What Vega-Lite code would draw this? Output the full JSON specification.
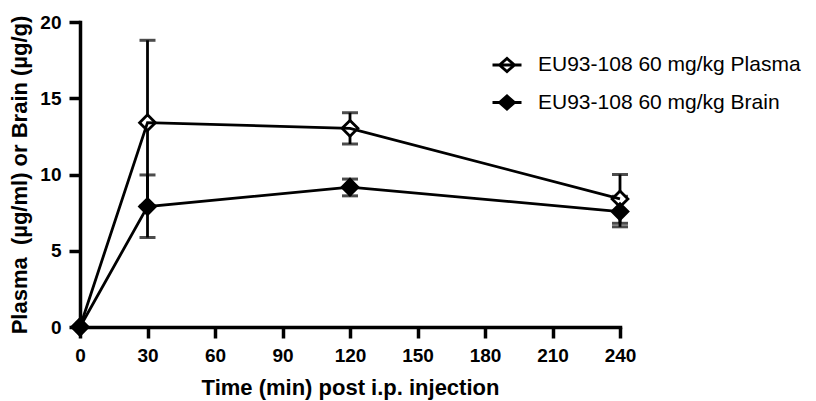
{
  "$schema": "https://vega.github.io/schema/vega-lite/v6.json",
  "autosize": {"type": "none"},
  "padding": {"left": 80, "top": 22, "right": 196, "bottom": 74},
  "width": 540,
  "height": 305,
  "background": "white",
  "config": {
    "view": {"stroke": null},
    "axis": {
      "grid": false,
      "labelFlush": false,
      "labelOverlap": false,
      "domainColor": "black",
      "domainWidth": 3.5,
      "domainCap": "square",
      "tickColor": "black",
      "tickWidth": 3.5,
      "tickSize": 11,
      "labelFont": "Liberation Sans",
      "labelFontWeight": "bold",
      "labelFontSize": 19,
      "labelColor": "black",
      "titleFont": "Liberation Sans",
      "titleFontWeight": "bold",
      "titleFontSize": 22,
      "titleColor": "black"
    }
  },
  "data": {
    "values": [
      {"time": 0, "series": "EU93-108 60 mg/kg Plasma", "mean": 0, "lo": null, "hi": null},
      {"time": 30, "series": "EU93-108 60 mg/kg Plasma", "mean": 13.4, "lo": 7.95, "hi": 18.8},
      {"time": 120, "series": "EU93-108 60 mg/kg Plasma", "mean": 13.03, "lo": 12.0, "hi": 14.05},
      {"time": 240, "series": "EU93-108 60 mg/kg Plasma", "mean": 8.4, "lo": 6.8, "hi": 10.0},
      {"time": 0, "series": "EU93-108 60 mg/kg Brain", "mean": 0, "lo": null, "hi": null},
      {"time": 30, "series": "EU93-108 60 mg/kg Brain", "mean": 7.9, "lo": 5.87, "hi": 9.97},
      {"time": 120, "series": "EU93-108 60 mg/kg Brain", "mean": 9.17, "lo": 8.6, "hi": 9.7},
      {"time": 240, "series": "EU93-108 60 mg/kg Brain", "mean": 7.57, "lo": 6.57, "hi": 8.57}
    ]
  },
  "encoding": {
    "x": {
      "field": "time",
      "type": "quantitative",
      "scale": {"domain": [0, 240], "nice": false},
      "axis": {"values": [0, 30, 60, 90, 120, 150, 180, 210, 240], "title": "Time (min) post i.p. injection", "labelPadding": 8, "titlePadding": 12}
    }
  },
  "layer": [
    {
      "mark": {"type": "rule", "color": "black", "strokeWidth": 2.8},
      "encoding": {
        "y": {"field": "lo", "type": "quantitative"},
        "y2": {"field": "hi"}
      }
    },
    {
      "mark": {"type": "tick", "orient": "horizontal", "color": "black", "size": 16, "thickness": 3},
      "encoding": {
        "y": {"field": "hi", "type": "quantitative"}
      }
    },
    {
      "mark": {"type": "tick", "orient": "horizontal", "color": "black", "size": 16, "thickness": 3},
      "encoding": {
        "y": {"field": "lo", "type": "quantitative"}
      }
    },
    {
      "mark": {"type": "point", "shape": "diamond", "filled": true, "stroke": "black", "strokeWidth": 2.8, "size": 250, "opacity": 1},
      "encoding": {
        "y": {
          "field": "mean",
          "type": "quantitative",
          "scale": {"domain": [0, 20], "nice": false},
          "axis": {"values": [0, 5, 10, 15, 20], "title": "Plasma \u00a0(µg/ml) or Brain (µg/g)", "labelPadding": 8, "titlePadding": 8}
        },
        "fill": {
          "field": "series",
          "type": "nominal",
          "scale": {"domain": ["EU93-108 60 mg/kg Plasma", "EU93-108 60 mg/kg Brain"], "range": ["white", "black"]},
          "legend": {
            "orient": "none",
            "legendX": 411,
            "legendY": 27,
            "title": null,
            "padding": 0,
            "symbolType": "M-1,0L1,0M-0.52,0L0,-0.45L0.52,0L0,0.45Z",
            "symbolSize": 841,
            "symbolStrokeWidth": 2.8,
            "symbolStrokeColor": "black",
            "symbolOpacity": 1,
            "labelFont": "Liberation Sans",
            "labelFontSize": 21,
            "labelColor": "black",
            "labelOffset": 15,
            "rowPadding": 8.5,
            "labelLimit": 400
          }
        }
      }
    },
    {
      "mark": {"type": "line", "color": "black", "strokeWidth": 2.8},
      "encoding": {
        "y": {"field": "mean", "type": "quantitative"},
        "detail": {"field": "series"}
      }
    }
  ]
}
